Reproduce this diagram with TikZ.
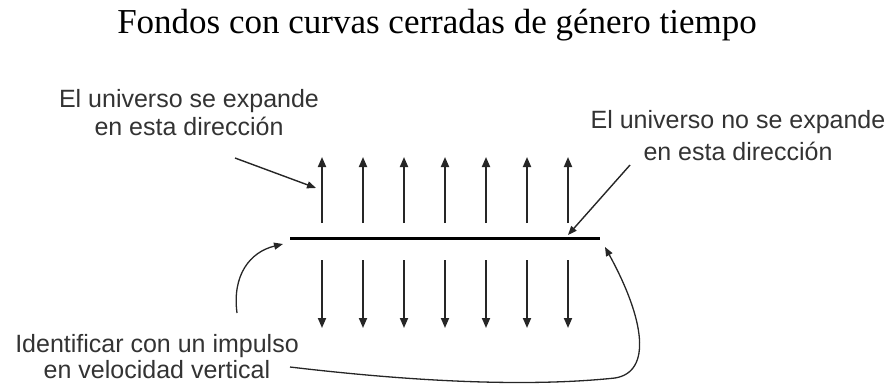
\documentclass[tikz,border=0pt]{standalone}
\usepackage{fontspec}
\setmainfont{Liberation Serif}
\setsansfont{Liberation Sans}
\usetikzlibrary{arrows.meta}

\begin{document}
\begin{tikzpicture}[x=1pt,y=-1pt,
  vec/.style={-{Triangle[length=10pt,width=8pt]},line width=1.8pt,draw=black!85},
  ptr/.style={-{Triangle[length=9pt,width=7pt]},line width=1.4pt,draw=black!85},
  note/.style={font=\sffamily\fontsize{25}{28}\selectfont,align=center,inner sep=0pt,anchor=north,text=black!80}]
\useasboundingbox (0,0) rectangle (893,389);
\node[font=\fontsize{35}{40}\selectfont,anchor=base] (title) at (437,33) {Fondos con curvas cerradas de género tiempo};

% The slice itself, with the expanding direction above and below it.
\coordinate (barL) at (290,238.5);
\coordinate (barR) at (600,238.5);
\draw[line width=3pt] (barL) -- (barR);
\foreach \i in {0,...,6}{
  \draw[vec] ({322+41*\i},223) -- ({322+41*\i},157);
  \draw[vec] ({322+41*\i},260) -- ({322+41*\i},328);
}

% Labels and their pointers.
\node[note] (expand) at (189,89) {El universo se expande\\en esta dirección};
\node[note] (noexpand) at (738,110) {El universo no se expande\\[4pt]en esta dirección};
\node[note] (boost) at (157,334) {Identificar con un impulso\\[-2pt]en velocidad vertical};
\coordinate (expandFoot) at (235,158);
\coordinate (expandTip) at (316,188);
\coordinate (noexpandFoot) at (630,165);
\coordinate (noexpandTip) at (568,235);
\draw[ptr] (expandFoot) -- (expandTip);
\draw[ptr] (noexpandFoot) -- (noexpandTip);

% Ends of the slice are identified.
\coordinate (leftFoot) at (237,313);
\coordinate (leftTip) at (283,244);
\coordinate (boostEnd) at (290,367);
\coordinate (rightTip) at (605,247);
\draw[ptr,line width=1.3pt] (leftFoot) .. controls (232,275) and (250,252) .. (leftTip);
\draw[ptr,line width=1.3pt] (boostEnd) .. controls (400,380) and (520,388) .. (615,378)
  .. controls (652,372) and (645,320) .. (rightTip);
\end{tikzpicture}
\end{document}
